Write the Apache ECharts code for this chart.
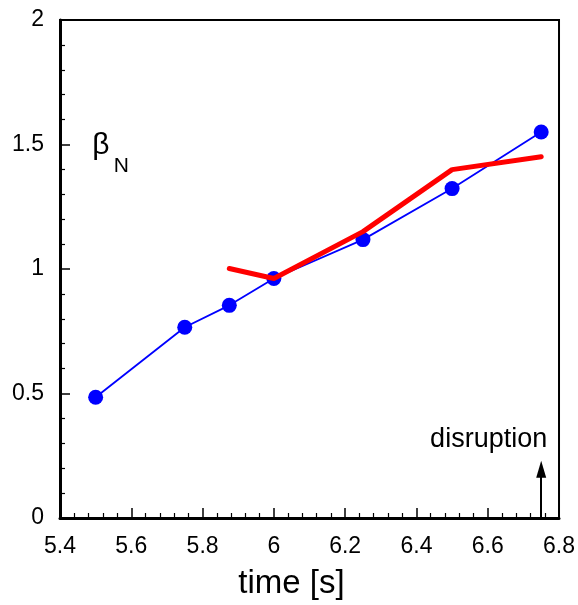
<!DOCTYPE html>
<html>
<head>
<meta charset="utf-8">
<script src="https://cdn.jsdelivr.net/npm/echarts@6/dist/echarts.min.js"></script>
<style>html,body{margin:0;padding:0;background:#fff}#c{width:578px;height:605px}</style>
</head>
<body>
<div id="c"></div>
<script>
const timesBlue = [5.5, 5.75, 5.875, 6.0, 6.25, 6.5, 6.75];
const betaBlue = [0.485, 0.766, 0.854, 0.962, 1.118, 1.323, 1.550];
const timesRed = [5.875, 6.0, 6.25, 6.5, 6.75];
const betaRed = [1.002, 0.962, 1.150, 1.399, 1.451];
const disruptionTime = 6.75;
const disruptionArrow = [0, 0.196];
const disruptionLabelY = 0.317;
const betaLabelPos = [5.515, 1.497];
const nLabelPos = [5.572, 1.411];

const font = 'Liberation Sans';
const chart = echarts.init(document.getElementById('c'), null, {renderer: 'canvas'});
chart.setOption({
  animation: false,
  backgroundColor: '#fff',
  grid: {left: 60, right: 18, top: 20, bottom: 86, show: true, borderColor: '#000', borderWidth: 2, backgroundColor: 'transparent'},
  xAxis: {
    type: 'value', min: 5.4, max: 6.8, interval: 0.2,
    name: 'time [s]', nameLocation: 'middle', nameGap: 49,
    nameTextStyle: {fontFamily: font, fontSize: 33, color: '#000', padding: [0, 36, 0, 0]},
    axisLine: {lineStyle: {color: '#000', width: 3}},
    axisTick: {inside: true, length: 10, lineStyle: {color: '#000', width: 1.5}},
    minorTick: {show: true, splitNumber: 5, length: 5, lineStyle: {color: '#000', width: 1.2}},
    splitLine: {show: false},
    axisLabel: {fontFamily: font, fontSize: 23, color: '#000', margin: 17,
      formatter: v => String(Math.round(v * 10) / 10)}
  },
  yAxis: {
    type: 'value', min: 0, max: 2, interval: 0.5,
    axisLine: {show: true, lineStyle: {color: '#000', width: 3}},
    axisTick: {show: true, inside: true, length: 10, lineStyle: {color: '#000', width: 1.5}},
    minorTick: {show: true, splitNumber: 5, length: 5, lineStyle: {color: '#000', width: 1.2}},
    splitLine: {show: false},
    axisLabel: {fontFamily: font, fontSize: 23, color: '#000', margin: 16}
  },
  series: [
    {
      type: 'line', data: timesBlue.map((t, i) => [t, betaBlue[i]]),
      symbol: 'circle', symbolSize: 15, color: '#0000ff',
      lineStyle: {color: '#0000ff', width: 1.8}, itemStyle: {color: '#0000ff'}, z: 2,
      markPoint: {
        silent: true, symbol: 'circle', symbolSize: 0,
        data: [
          {coord: betaLabelPos, label: {formatter: 'β', fontSize: 30}},
          {coord: nLabelPos, label: {formatter: 'N', fontSize: 21}}
        ],
        label: {show: true, position: 'inside', fontFamily: font, fontWeight: 'normal', color: '#000'}
      }
    },
    {
      type: 'line', data: timesRed.map((t, i) => [t, betaRed[i]]),
      symbol: 'none', color: '#ff0000',
      lineStyle: {color: '#ff0000', width: 5, cap: 'round', join: 'round'}, z: 3,
      markLine: {
        silent: true, symbol: ['none', 'triangle'], symbolSize: [10, 17],
        lineStyle: {color: '#000', width: 2, type: 'solid'},
        label: {show: false},
        data: [[{coord: [disruptionTime, disruptionArrow[0]]}, {coord: [disruptionTime, disruptionArrow[1]]}]]
      },
      markPoint: {
        silent: true, symbol: 'circle', symbolSize: 0,
        data: [{coord: [disruptionTime, disruptionLabelY]}],
        label: {show: true, position: 'inside', formatter: 'disruption', align: 'right', offset: [6, 0],
          fontFamily: font, fontSize: 27, color: '#000'}
      }
    }
  ]
});
</script>
</body>
</html>
